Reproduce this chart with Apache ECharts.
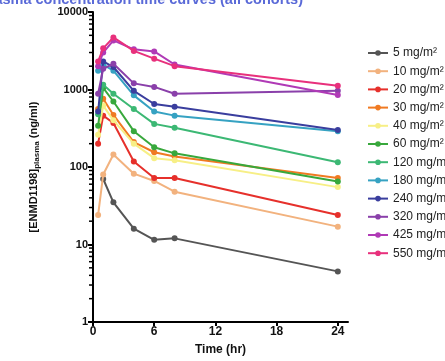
<!DOCTYPE html>
<html>
<head>
<meta charset="utf-8">
<script src="https://cdn.jsdelivr.net/npm/echarts@6/dist/echarts.min.js"></script>
<style>
  html, body { margin: 0; padding: 0; background: #fff; }
  #chart { width: 445px; height: 361px; }
</style>
</head>
<body>
<div id="chart"></div>
<script>
const times = [0.5, 1, 2, 4, 6, 8, 24];
const doses = ["5 mg/m²", "10 mg/m²", "20 mg/m²", "30 mg/m²", "40 mg/m²", "60 mg/m²",
  "120 mg/m²", "180 mg/m²", "240 mg/m²", "320 mg/m²", "425 mg/m²", "550 mg/m²"];
const colors = ["#555555", "#f2b27e", "#e6302b", "#f07a22", "#f7ef86", "#38a83c",
  "#3cb874", "#36a2c2", "#3a3e9e", "#8a40aa", "#b03ab6", "#e8307c"];

// plasma concentration (ng/ml) per cohort at each time point
const d5 = [null, 70, 35, 16, 11.5, 12, 4.5];
const d10 = [24, 80, 145, 82, 66, 48, 17];
const d20 = [200, 460, 370, 118, 72, 72, 24];
const d30 = [560, 760, 470, 210, 155, 137, 72];
const d40 = [260, 620, 400, 200, 130, 122, 55];
const d60 = [340, 1050, 700, 290, 180, 150, 65];
const d120 = [480, 1150, 880, 560, 360, 320, 115];
const d180 = [1750, 2100, 1750, 840, 520, 460, 290];
const d240 = [520, 2300, 1950, 960, 650, 600, 300];
const d320 = [880, 1850, 2150, 1200, 1080, 880, 960];
const d425 = [2000, 3000, 4300, 3300, 3100, 2100, 850];
const d550 = [2300, 3400, 4700, 3150, 2500, 2000, 1120];
const cohorts = [d5, d10, d20, d30, d40, d60, d120, d180, d240, d320, d425, d550];

const xTicks = [0, 6, 12, 18, 24];
const yMinor = [];
[1, 10, 100, 1000].forEach((dec) => {
  for (let k = 2; k <= 9; k++) yMinor.push(dec * k);
});

const chart = echarts.init(document.getElementById("chart"));
const font = "Liberation Sans, Arial, sans-serif";

const lineSeries = cohorts.map((vals, i) => ({
  name: doses[i],
  type: "line",
  data: times.map((t, j) => [t, vals[j]]).filter((p) => p[1] != null),
  color: colors[i],
  symbol: "circle",
  symbolSize: 6,
  lineStyle: { width: 2, color: colors[i] },
  itemStyle: { color: colors[i] },
  z: 2 + i,
}));

chart.setOption({
  backgroundColor: "#fff",
  animation: false,
  graphic: [
    {
      type: "text",
      right: 142,
      top: -8,
      style: {
        text: "Plasma concentration time curves (all cohorts)",
        fill: "#5a6ad8",
        font: "bold 14.5px " + font,
      },
    },
  ],
  legend: {
    data: doses,
    orient: "vertical",
    left: 362,
    top: 41,
    itemWidth: 20,
    itemHeight: 7,
    itemGap: 4.2,
    textStyle: { color: "#222", fontSize: 12, fontFamily: font, lineHeight: 14 },
  },
  grid: { left: 93, right: 97, top: 12, bottom: 36 },
  xAxis: {
    type: "value",
    min: 0,
    max: 25,
    interval: 6,
    name: "Time (hr)",
    nameLocation: "middle",
    nameGap: 22,
    nameTextStyle: { color: "#111", fontWeight: "bold", fontSize: 12, fontFamily: font },
    axisLine: { lineStyle: { color: "#000", width: 2 } },
    axisTick: { show: true, length: 4, lineStyle: { color: "#000", width: 2 }, customValues: xTicks },
    axisLabel: { color: "#111", fontWeight: "bold", fontSize: 12, fontFamily: font, margin: 4, customValues: xTicks },
    splitLine: { show: false },
  },
  yAxis: {
    type: "log",
    logBase: 10,
    min: 1,
    max: 10000,
    name: "{a|[ENMD1198]}{b|plasma}{a| (ng/ml)}",
    nameLocation: "middle",
    nameGap: 52,
    nameTextStyle: {
      rich: {
        a: { fontWeight: "bold", fontSize: 11, color: "#111", fontFamily: font },
        b: { fontWeight: "bold", fontSize: 8, color: "#111", fontFamily: font, padding: [6, 0, 0, 0] },
      },
    },
    axisLine: { show: true, lineStyle: { color: "#000", width: 2 } },
    axisTick: { show: true, length: 5, lineStyle: { color: "#000", width: 2 } },
    axisLabel: {
      color: "#111", fontWeight: "bold", fontSize: 11, fontFamily: font, margin: 5,
      formatter: (v) => String(Math.round(v)),
    },
    splitLine: { show: false },
  },
  series: [
    ...lineSeries,
    {
      name: "minor",
      type: "custom",
      silent: true,
      clip: false,
      data: yMinor.map((v) => [0, v]),
      renderItem: (params, api) => {
        const p = api.coord([0, api.value(1)]);
        return {
          type: "line",
          shape: { x1: p[0] - 4, y1: p[1], x2: p[0], y2: p[1] },
          style: { stroke: "#000", lineWidth: 1.5 },
        };
      },
      z: 20,
    },
  ],
});
</script>
</body>
</html>
